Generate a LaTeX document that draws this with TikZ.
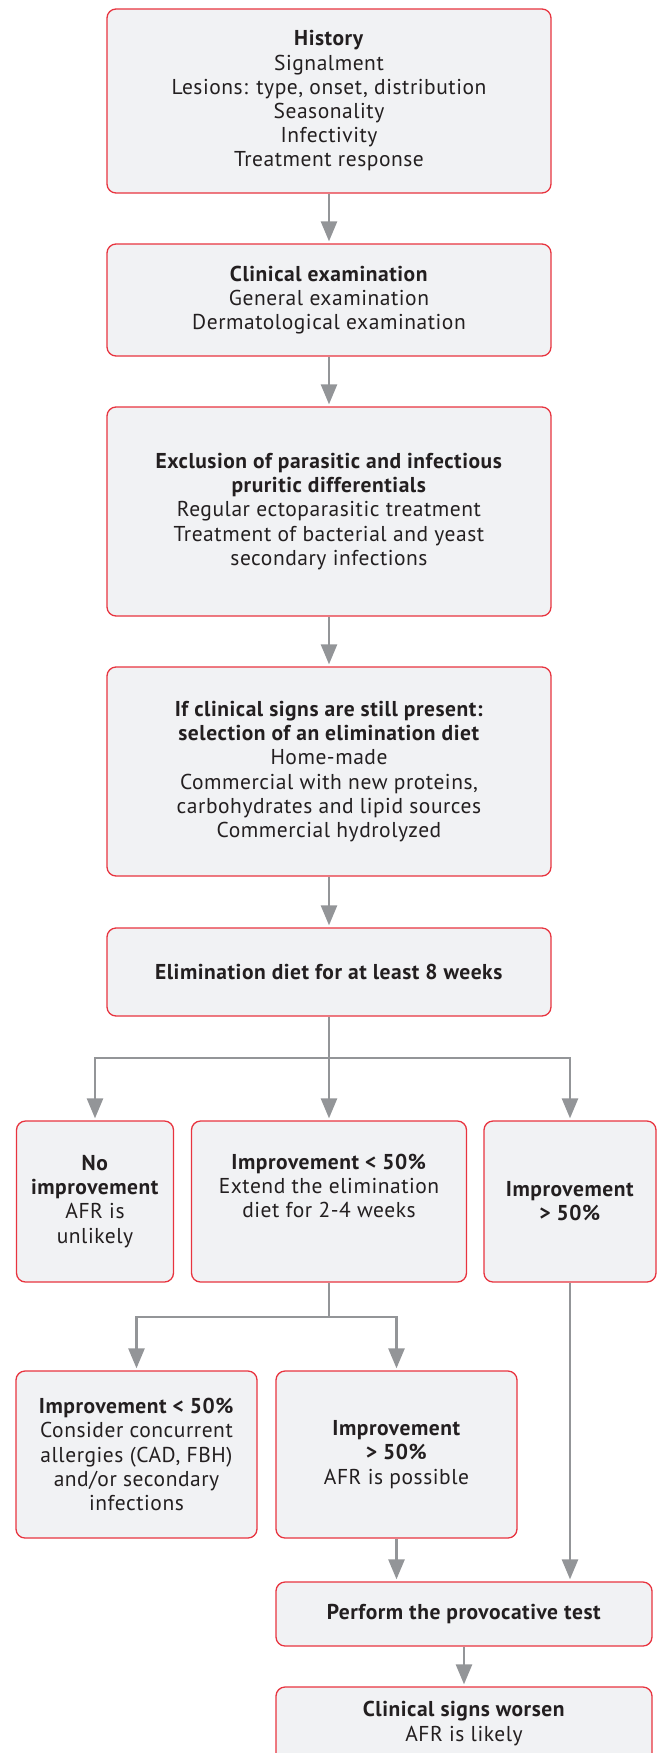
\documentclass[tikz,border=0pt]{standalone}
\usepackage{fontspec}
\setmainfont[LetterSpace=2.5]{PT Sans}
\usetikzlibrary{arrows.meta}
\definecolor{boxred}{HTML}{E8343F}
\definecolor{boxfill}{HTML}{F1F2F4}
\definecolor{linegray}{HTML}{939598}
\definecolor{txt}{HTML}{231F20}
\begin{document}
\begin{tikzpicture}[x=1pt,y=-1pt,
 box/.style={draw=boxred, line width=1.3pt, fill=boxfill, rounded corners=9pt, align=center, text=txt, font=\fontsize{21.5}{24.2}\selectfont, inner sep=0pt},
 conn/.style={draw=linegray, line width=2.6pt},
 arr/.style={conn, -{Triangle[width=16pt,length=20pt]}, shorten >=2pt}]
\useasboundingbox (0,0) rectangle (663,1753);
\node[box, minimum width=444pt, minimum height=184pt] (hist) at (329,101)
 {\textbf{History}\\Signalment\\Lesions: type, onset, distribution\\Seasonality\\Infectivity\\Treatment response};
\node[box, minimum width=444pt, minimum height=112pt] (clin) at (329,300)
 {\textbf{Clinical examination}\\General examination\\Dermatological examination};
\node[box, minimum width=444pt, minimum height=209pt] (excl) at (329,511.5)
 {\textbf{Exclusion of parasitic and infectious}\\\textbf{pruritic differentials}\\Regular ectoparasitic treatment\\Treatment of bacterial and yeast\\secondary infections};
\node[box, minimum width=444pt, minimum height=209pt] (ifcl) at (329,771.5)
 {\textbf{If clinical signs are still present:}\\\textbf{selection of an elimination diet}\\Home-made\\Commercial with new proteins,\\carbohydrates and lipid sources\\Commercial hydrolyzed};
\node[box, minimum width=444pt, minimum height=88pt] (elim) at (329,972)
 {\textbf{Elimination diet for at least 8 weeks}};
\node[box, minimum width=157pt, minimum height=161pt] (noimp) at (95,1201.5)
 {\textbf{No}\\\textbf{improvement}\\AFR is\\unlikely};
\node[box, minimum width=275pt, minimum height=161pt] (imp1) at (329,1201.5)
 {\textbf{Improvement < 50\%}\\Extend the elimination\\diet for 2-4 weeks\\\strut};
\node[box, minimum width=172pt, minimum height=161pt] (imp2) at (570,1201.5)
 {\textbf{Improvement}\\\textbf{> 50\%}};
\node[box, minimum width=241pt, minimum height=167pt] (imp3) at (136.5,1454.5)
 {\textbf{Improvement < 50\%}\\Consider concurrent\\allergies (CAD, FBH)\\and/or secondary\\infections};
\node[box, minimum width=241pt, minimum height=167pt] (imp4) at (396.5,1454.5)
 {\textbf{Improvement}\\\textbf{> 50\%}\\AFR is possible};
\node[box, minimum width=376pt, minimum height=64pt] (perf) at (464,1614)
 {\textbf{Perform the provocative test}};
\node[box, minimum width=376pt, minimum height=100pt] (worse) at (464,1737)
 {\textbf{Clinical signs worsen}\\AFR is likely\\\strut};
\draw[arr] (hist) -- (clin);
\draw[arr] (clin) -- (excl);
\draw[arr] (excl) -- (ifcl);
\draw[arr] (ifcl) -- (elim);
\coordinate (b1) at (329,1058);
\draw[conn] (elim.south) -- (b1);
\draw[arr] (b1) -| (noimp.north);
\draw[arr] (b1) -- (imp1.north);
\draw[arr] (b1) -| (imp2.north);
\coordinate (b2) at (329,1317);
\draw[conn] (imp1.south) -- (b2);
\draw[arr] (b2) -| (imp3.north);
\draw[arr] (b2) -| (imp4.north);
\draw[arr] (imp4.south) -- (imp4.south |- perf.north);
\draw[arr] (imp2.south) -- (imp2.south |- perf.north);
\draw[arr] (perf) -- (worse);
\end{tikzpicture}
\end{document}
